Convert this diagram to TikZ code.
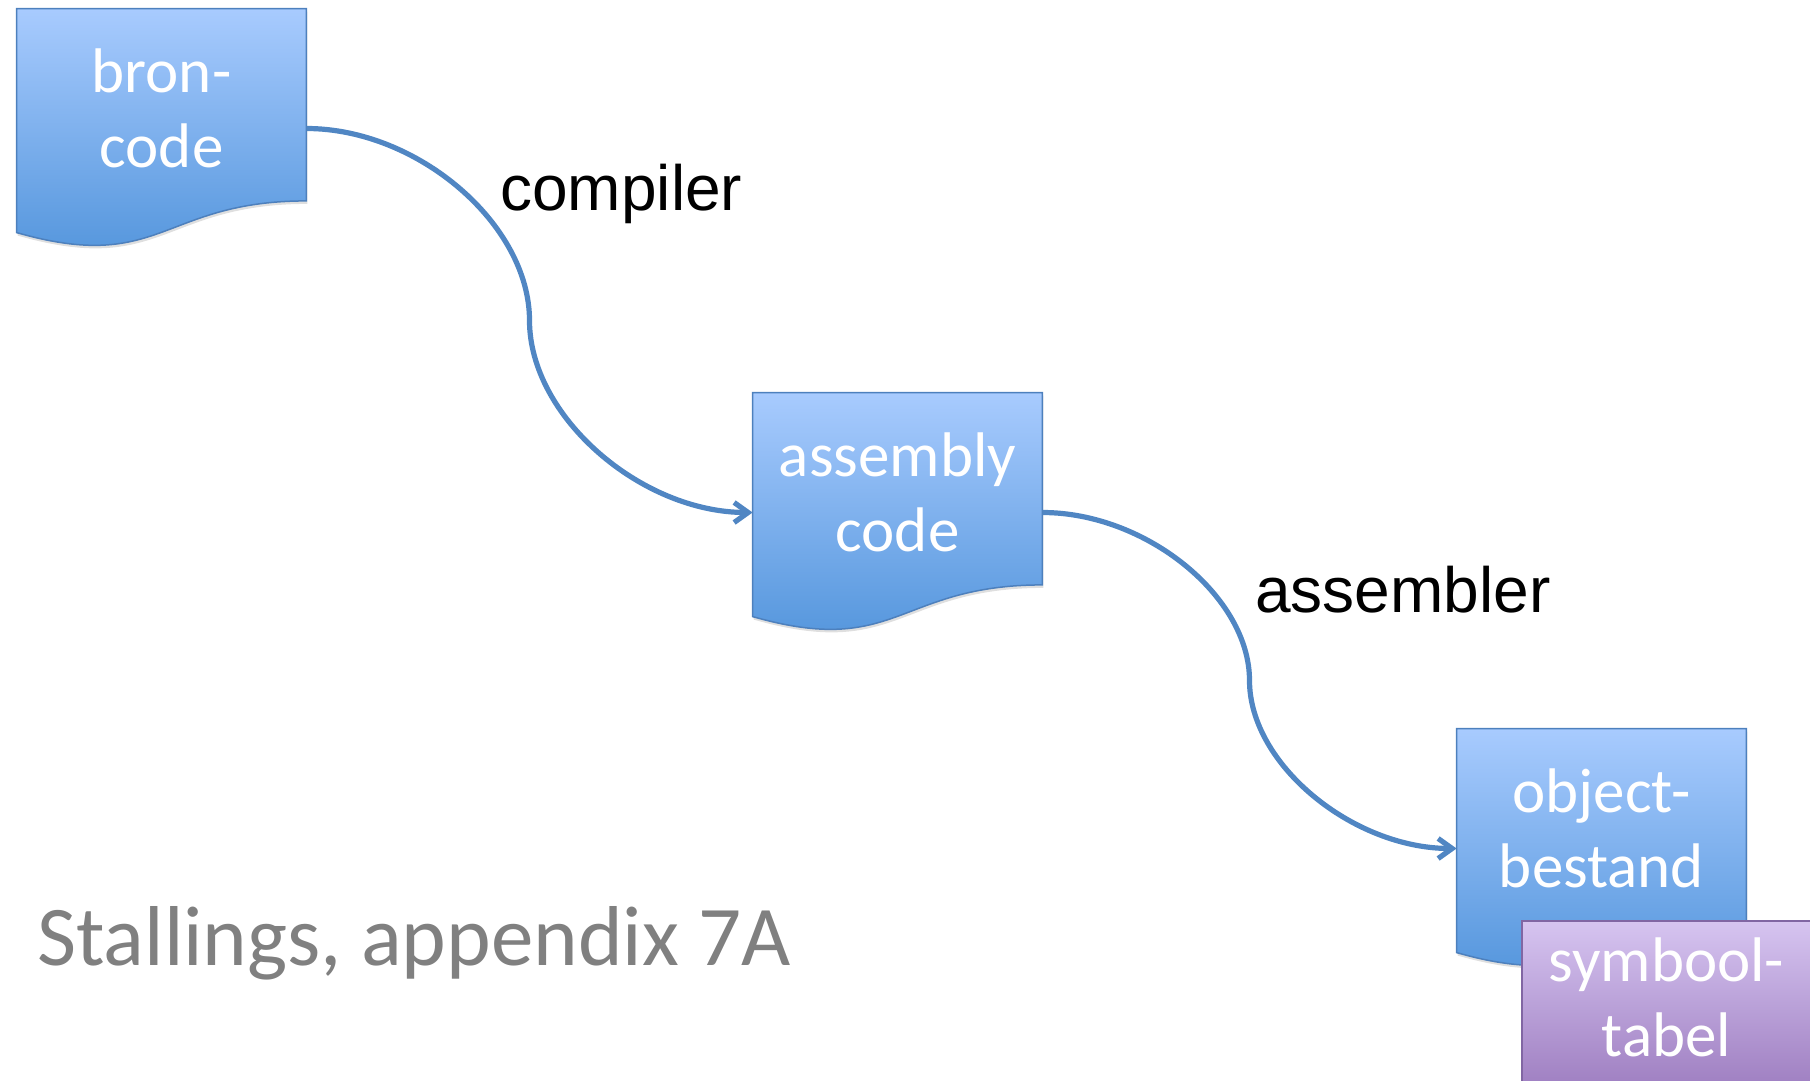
\documentclass[tikz,border=0pt]{standalone}
\usepackage{fontspec}
\setmainfont{Carlito}
\newfontfamily\arialfont{Liberation Sans}
\usetikzlibrary{calc,arrows.meta,shadows}

\definecolor{docTop}{RGB}{168,203,254}
\definecolor{docBot}{RGB}{78,146,218}
\definecolor{docLine}{RGB}{77,128,189}
\definecolor{symTop}{RGB}{214,196,240}
\definecolor{symBot}{RGB}{150,116,186}
\definecolor{symLine}{RGB}{129,102,163}
\definecolor{connLine}{RGB}{80,134,195}
\definecolor{srcGray}{RGB}{128,128,128}

% flowchart "document": straight top and sides, wavy bottom
\newcommand\docshape[1]{%
  \draw[docfill] (#1.north west) -- (#1.north east)
    -- ($(#1.north east)!0.802!(#1.south east)$)
    .. controls ($(#1.north)!0.802!(#1.south)$) and ($(#1.north)!1.1075!(#1.south)$)
    .. ($(#1.north west)!0.934!(#1.south west)$) -- cycle;}

\begin{document}
\begin{tikzpicture}[x=0.5pt,y=-0.5pt,
    docnode/.style={minimum width=144.5pt,minimum height=119.5pt,inner sep=0pt},
    docfill/.style={draw=docLine,line width=0.75pt,top color=docTop,bottom color=docBot,
      drop shadow={opacity=0.25,shadow xshift=0.5pt,shadow yshift=-1.5pt}},
    symbox/.style={draw=symLine,line width=0.75pt,top color=symTop,bottom color=symBot,
      minimum width=144.5pt,minimum height=96.5pt,inner sep=0pt},
    doctext/.style={align=center,text=white,inner sep=0pt,yshift=10pt,
      font=\fontsize{31.5}{37.5}\selectfont},
    passlabel/.style={anchor=base west,inner sep=0pt,
      font=\arialfont\fontsize{32}{38}\selectfont},
    conn/.style={draw=connLine,line width=2.6pt,-{Straight Barb[length=7pt,width=10pt]}},
    sconn/.style={to path={let \p1=(\tikztostart), \p2=(\tikztotarget) in
      .. controls ({0.75*\x1+0.25*\x2},\y1) and ({0.5*\x1+0.5*\x2},{0.75*\y1+0.25*\y2})
      .. ({0.5*\x1+0.5*\x2},{0.5*\y1+0.5*\y2})
      .. controls ({0.5*\x1+0.5*\x2},{0.25*\y1+0.75*\y2}) and ({0.25*\x1+0.75*\x2},\y2)
      .. (\tikztotarget) \tikztonodes}}]
  \useasboundingbox (0,0) rectangle (1810,1081);

  % the three files
  \node[docnode] (bron) at (161.5,128.5) {};
  \docshape{bron}
  \node[doctext] (bronText) at (bron) {bron-\\code};

  \node[docnode] (asm) at (897.5,512.5) {};
  \docshape{asm}
  \node[doctext] (asmText) at (asm) {assembly\\code};

  \node[docnode] (obj) at (1601.5,848.5) {};
  \docshape{obj}
  \node[doctext] (objText) at (obj) {object-\\bestand};

  % symbol table on top of the object file
  \node[symbox] (sym) at (1666.5,1017.5) {};
  \node[doctext] (symText) at (sym) {symbool-\\tabel};

  % translation steps
  \draw[conn] (bron.east) to[sconn] (asm.west);
  \draw[conn] (asm.east) to[sconn] (obj.west);
  \node[passlabel] (compLbl) at (500,210) {compiler};
  \node[passlabel] (asmLbl) at (1255,612) {assembler};

  \node[anchor=base west,inner sep=0pt,text=srcGray,
    font=\fontsize{42.5}{50}\selectfont] (src) at (37,965) {Stallings, appendix 7A};
\end{tikzpicture}
\end{document}
